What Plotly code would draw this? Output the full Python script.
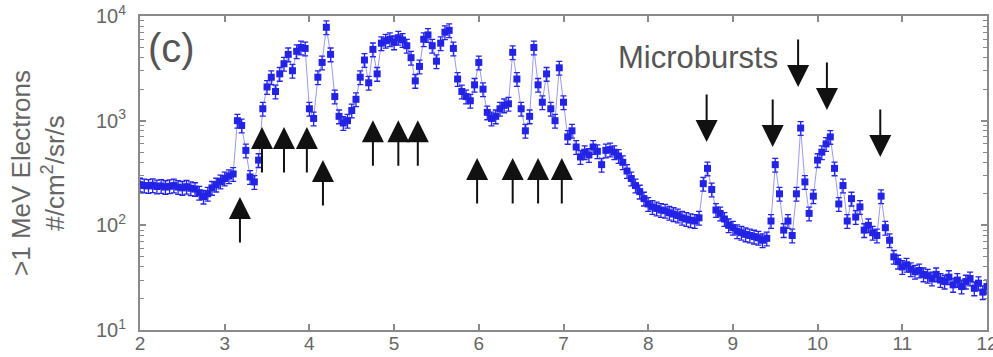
import math
import plotly.graph_objects as go

# Time axis (hours) and >1 MeV electron flux (#/cm^2/sr/s)
time_hr = [
    2.00, 2.05, 2.10, 2.15, 2.20, 2.25, 2.30, 2.35, 2.40, 2.45,
    2.50, 2.55, 2.60, 2.65, 2.70, 2.75, 2.80, 2.85, 2.90, 2.95,
    3.00, 3.05, 3.10, 3.15, 3.20, 3.25, 3.30, 3.35, 3.40, 3.45,
    3.50, 3.55, 3.60, 3.65, 3.70, 3.75, 3.80, 3.85, 3.90, 3.95,
    4.00, 4.05, 4.10, 4.15, 4.20, 4.25, 4.30, 4.35, 4.40, 4.45,
    4.50, 4.55, 4.60, 4.65, 4.70, 4.75, 4.80, 4.85, 4.90, 4.95,
    5.00, 5.05, 5.10, 5.15, 5.20, 5.25, 5.30, 5.35, 5.40, 5.45,
    5.50, 5.55, 5.60, 5.65, 5.70, 5.75, 5.80, 5.85, 5.90, 5.95,
    6.00, 6.05, 6.10, 6.15, 6.20, 6.25, 6.30, 6.35, 6.40, 6.45,
    6.50, 6.55, 6.60, 6.65, 6.70, 6.75, 6.80, 6.85, 6.90, 6.95,
    7.00, 7.05, 7.10, 7.15, 7.20, 7.25, 7.30, 7.35, 7.40, 7.45,
    7.50, 7.55, 7.60, 7.65, 7.70, 7.75, 7.80, 7.85, 7.90, 7.95,
    8.00, 8.05, 8.10, 8.15, 8.20, 8.25, 8.30, 8.35, 8.40, 8.45,
    8.50, 8.55, 8.60, 8.65, 8.70, 8.75, 8.80, 8.85, 8.90, 8.95,
    9.00, 9.05, 9.10, 9.15, 9.20, 9.25, 9.30, 9.35, 9.40, 9.45,
    9.50, 9.55, 9.60, 9.65, 9.70, 9.75, 9.80, 9.85, 9.90, 9.95,
    10.00, 10.05, 10.10, 10.15, 10.20, 10.25, 10.30, 10.35, 10.40, 10.45,
    10.50, 10.55, 10.60, 10.65, 10.70, 10.75, 10.80, 10.85, 10.90, 10.95,
    11.00, 11.05, 11.10, 11.15, 11.20, 11.25, 11.30, 11.35, 11.40, 11.45,
    11.50, 11.55, 11.60, 11.65, 11.70, 11.75, 11.80, 11.85, 11.90, 11.95,
    12.00,
]

flux = [
    245, 240, 238, 242, 235, 238, 232, 236, 240, 232,
    228, 234, 226, 222, 205, 188, 200, 228, 245, 262,
    280, 295, 310, 1000, 900, 520, 290, 260, 420, 1300,
    2100, 2600, 1900, 2800, 3500, 4300, 3000, 4600, 5000, 4900,
    1300, 1050, 2600, 3600, 7800, 4300, 1700, 1100, 950, 1000,
    1250, 1600, 2600, 3800, 2300, 4800, 2800, 5500, 5800, 6000,
    5600, 6200, 5900, 5200, 4000, 2400, 3300, 6000, 6600, 5200,
    3700, 5500, 7000, 7300, 4900, 2500, 1900, 1700, 1550, 2200,
    3600, 2000, 1200, 1050, 1100, 1300, 1400, 1450, 4500, 2500,
    1300, 800, 1100, 5000, 2200, 1500, 2800, 1300, 1000, 3200,
    1500, 700, 800, 560, 450, 500, 470, 560, 510, 380,
    520, 530, 500, 460, 400, 330, 280, 240, 210, 180,
    160, 150, 145, 140, 138, 132, 128, 124, 118, 115,
    112, 110, 118, 250, 350, 220, 140, 130, 115, 100,
    95, 88, 85, 82, 80, 78, 76, 72, 75, 110,
    380, 200, 90, 110, 80, 200, 850, 260, 130, 190,
    420, 500, 600, 700, 350, 160, 240, 110, 180, 120,
    150, 90, 100, 85, 80, 190, 95, 72, 50, 45,
    40, 42, 38, 36, 37, 34, 33, 31, 34, 30,
    29, 32, 27, 30, 26, 29, 31, 25, 28, 23,
    26,
]

# Relative counting uncertainty, percent
flux_err_pct = 15

# Arrow markers: time and flux value at the arrow tip
up_arrow_t = [3.18, 3.44, 3.70, 3.97, 4.16, 4.75, 5.05, 5.28, 5.98, 6.40, 6.70, 6.98]
up_arrow_v = [187, 870, 870, 870, 421, 1010, 1010, 1010, 440, 440, 440, 440]
down_arrow_t = [8.69, 9.47, 9.77, 10.11, 10.74]
down_arrow_v = [626, 560, 2100, 1265, 450]

x_ticks = [2, 3, 4, 5, 6, 7, 8, 9, 10, 11, 12]
y_ticks = [10, 100, 1000, 10000]
y_tick_text = ["10<sup>1</sup>", "10<sup>2</sup>", "10<sup>3</sup>", "10<sup>4</sup>"]
y_minor_ticks = [m * d for d in (10, 100, 1000) for m in range(2, 10)]

BLUE = "#2323e6"
AXIS_GRAY = "#8a8a8a"
TEXT_GRAY = "#666666"
FONT = "Liberation Sans, Arial, sans-serif"

fig = go.Figure()
fig.add_trace(go.Scatter(
    x=time_hr, y=flux, mode="lines+markers",
    line=dict(color="rgba(70,70,235,0.55)", width=1),
    marker=dict(symbol="square", size=7, color=BLUE, line=dict(width=0)),
    error_y=dict(type="percent", value=flux_err_pct, color=BLUE,
                 thickness=1.3, width=3),
    showlegend=False,
))

annotations = []
for t, v in zip(up_arrow_t, up_arrow_v):
    annotations.append(dict(
        x=t, y=math.log10(v), xref="x", yref="y", text="",
        showarrow=True, arrowhead=2, arrowsize=2.2, arrowwidth=2,
        arrowcolor="#111111", ax=0, ay=47,
    ))
for t, v in zip(down_arrow_t, down_arrow_v):
    annotations.append(dict(
        x=t, y=math.log10(v), xref="x", yref="y", text="",
        showarrow=True, arrowhead=2, arrowsize=2.2, arrowwidth=2,
        arrowcolor="#111111", ax=0, ay=-49,
    ))
annotations.append(dict(
    x=2.07, y=math.log10(5000), xref="x", yref="y", text="(c)",
    showarrow=False, xanchor="left", yanchor="middle",
    font=dict(family=FONT, size=40, color="#555555"),
))
annotations.append(dict(
    x=9.56, y=math.log10(4000), xref="x", yref="y", text="Microbursts",
    showarrow=False, xanchor="right", yanchor="middle",
    font=dict(family=FONT, size=31, color="#555555"),
))

fig.update_layout(
    width=993, height=357,
    margin=dict(l=140, r=6, t=16, b=27),
    paper_bgcolor="white", plot_bgcolor="white",
    font=dict(family=FONT, color=TEXT_GRAY),
    annotations=annotations,
)
fig.update_xaxes(
    range=[2, 12.0001], tickvals=x_ticks, ticktext=[str(v) for v in x_ticks],
    ticks="inside", ticklen=6, tickwidth=1.5, tickcolor=AXIS_GRAY,
    showline=True, linecolor=AXIS_GRAY, linewidth=2, mirror="allticks",
    showgrid=False, zeroline=False, ticklabeloverflow="allow", automargin=False,
    ticklabelstandoff=-5,
    tickfont=dict(family=FONT, size=19, color=TEXT_GRAY),
)
fig.update_yaxes(
    type="log", range=[0.9999, 4.0001], tickvals=y_ticks, ticktext=y_tick_text,
    ticks="inside", ticklen=6, tickwidth=1.5, tickcolor=AXIS_GRAY,
    minor=dict(tickmode="array", tickvals=y_minor_ticks, ticks="inside",
               ticklen=4, tickwidth=1, tickcolor=AXIS_GRAY, showgrid=False),
    showline=True, linecolor=AXIS_GRAY, linewidth=2, mirror="allticks",
    showgrid=False, zeroline=False, ticklabeloverflow="allow", automargin=False,
    ticklabelstandoff=8,
    tickfont=dict(family=FONT, size=20, color=TEXT_GRAY),
    title=dict(text=">1 MeV Electrons<br>#/cm<sup>2</sup>/sr/s",
               font=dict(family=FONT, size=26, color=TEXT_GRAY), standoff=24),
)

fig.write_html("out.html")
